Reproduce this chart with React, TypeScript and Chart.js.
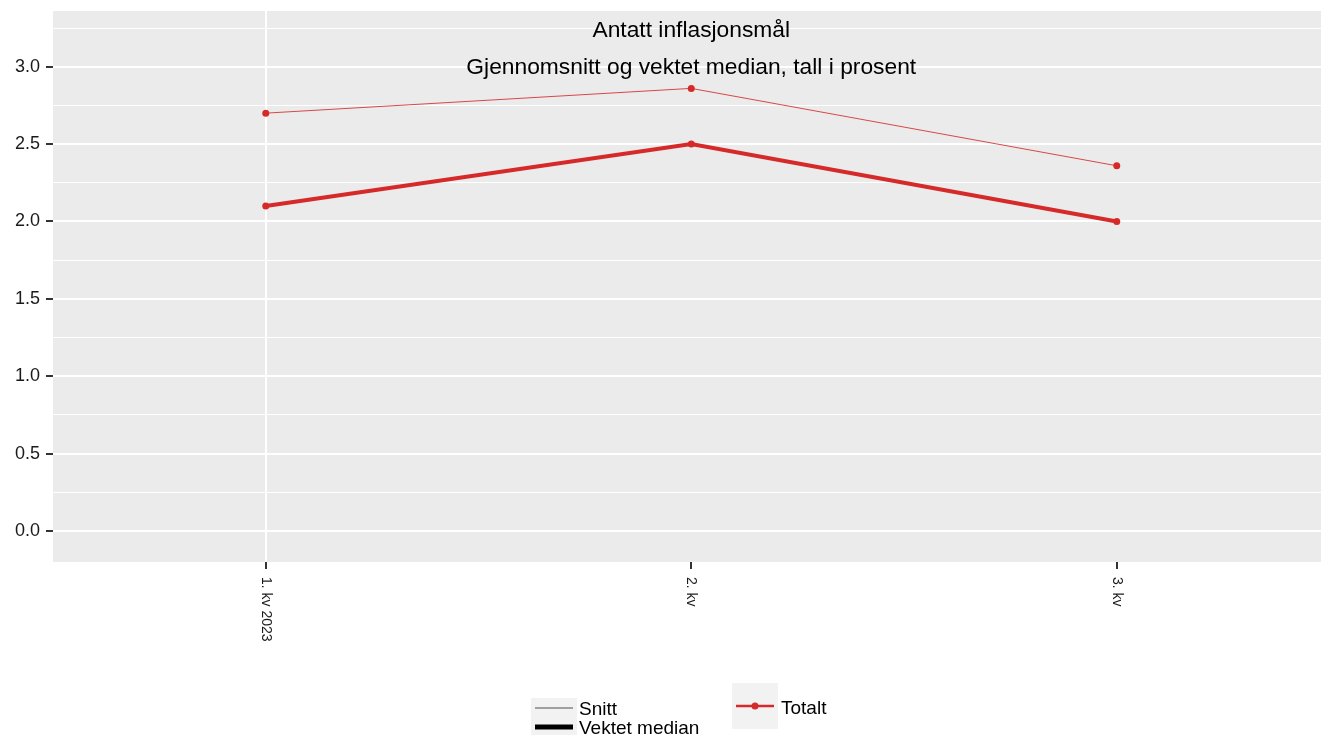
import React, { useEffect, useRef } from "react";
import { Chart, registerables } from "chart.js";

Chart.register(...registerables);

const categories = ["1. kv 2023", "2. kv", "3. kv"];
const snittValues = [2.7, 2.86, 2.36];
const medianValues = [2.1, 2.5, 2.0];
const yGridValues = [0, 0.25, 0.5, 0.75, 1, 1.25, 1.5, 1.75, 2, 2.25, 2.5, 2.75, 3, 3.25];
const title = "Antatt inflasjonsmål";
const subtitle = "Gjennomsnitt og vektet median, tall i prosent";
const legendStyleLabels = ["Snitt", "Vektet median"];
const legendSeriesLabel = "Totalt";

const RED = "#d62a2a";
const FONT = "'Liberation Sans', Arial, sans-serif";

const isMajor = (v: number) => Math.abs(v * 2 - Math.round(v * 2)) < 1e-6;

export default function App() {
  const ref = useRef<HTMLCanvasElement | null>(null);

  useEffect(() => {
    const canvas = ref.current;
    if (!canvas) return;

    const decor = {
      id: "decor",
      beforeDraw(chart: any) {
        const { ctx, chartArea } = chart;
        ctx.save();
        ctx.fillStyle = "#ebebeb";
        ctx.fillRect(chartArea.left, chartArea.top, chartArea.right - chartArea.left, chartArea.bottom - chartArea.top);
        ctx.restore();
      },
      afterDraw(chart: any) {
        const { ctx, chartArea } = chart;
        const xs = chart.scales.x;
        ctx.save();
        // title
        ctx.fillStyle = "#000";
        ctx.textAlign = "center";
        ctx.textBaseline = "alphabetic";
        ctx.font = `22.8px ${FONT}`;
        const cx = xs.getPixelForValue(1);
        ctx.fillText(title, cx, 37);
        ctx.fillText(subtitle, cx, 74);
        // x labels rotated
        ctx.font = `14px ${FONT}`;
        ctx.fillStyle = "#1a1a1a";
        categories.forEach((c, i) => {
          const x = xs.getPixelForValue(i);
          ctx.save();
          ctx.translate(x, chartArea.bottom + 15);
          ctx.rotate(Math.PI / 2);
          ctx.textAlign = "left";
          ctx.textBaseline = "middle";
          ctx.fillText(c, 0, 0);
          ctx.restore();
        });
        // legend 1
        ctx.fillStyle = "#f2f2f2";
        ctx.fillRect(531, 698, 46, 37);
        ctx.lineCap = "butt";
        ctx.strokeStyle = "#a0a0a0";
        ctx.lineWidth = 2;
        ctx.beginPath();
        ctx.moveTo(535, 708);
        ctx.lineTo(573, 708);
        ctx.stroke();
        ctx.strokeStyle = "#000";
        ctx.lineWidth = 5;
        ctx.beginPath();
        ctx.moveTo(535, 727);
        ctx.lineTo(573, 727);
        ctx.stroke();
        ctx.fillStyle = "#000";
        ctx.font = `19px ${FONT}`;
        ctx.textAlign = "left";
        ctx.textBaseline = "alphabetic";
        ctx.fillText(legendStyleLabels[0], 579, 715);
        ctx.fillText(legendStyleLabels[1], 579, 734);
        // legend 2
        ctx.fillStyle = "#f2f2f2";
        ctx.fillRect(732, 683, 46, 46);
        ctx.strokeStyle = RED;
        ctx.lineWidth = 2.5;
        ctx.beginPath();
        ctx.moveTo(736, 706);
        ctx.lineTo(774, 706);
        ctx.stroke();
        ctx.fillStyle = RED;
        ctx.beginPath();
        ctx.arc(755, 706, 3.5, 0, Math.PI * 2);
        ctx.fill();
        ctx.fillStyle = "#000";
        ctx.fillText(legendSeriesLabel, 781, 714);
        ctx.restore();
      },
    };

    const chart = new Chart(canvas, {
      type: "line",
      data: {
        datasets: [
          {
            label: "Snitt",
            data: snittValues.map((y, i) => ({ x: i, y })),
            borderColor: "rgba(214,42,42,0.85)",
            backgroundColor: RED,
            borderWidth: 1,
            pointRadius: 3.5,
            pointBorderWidth: 0,
            pointBackgroundColor: RED,
            tension: 0,
          },
          {
            label: "Vektet median",
            data: medianValues.map((y, i) => ({ x: i, y })),
            borderColor: RED,
            backgroundColor: RED,
            borderWidth: 4,
            pointRadius: 3.5,
            pointBorderWidth: 0,
            pointBackgroundColor: RED,
            tension: 0,
          },
        ],
      },
      options: {
        responsive: false,
        animation: false,
        layout: { autoPadding: false, padding: { top: 11, right: 0, left: 0, bottom: 0 } },
        plugins: {
          legend: { display: false },
          title: { display: false },
          tooltip: { enabled: false },
        },
        scales: {
          x: {
            type: "linear",
            min: -0.5,
            max: 2.48,
            afterBuildTicks: (s: any) => {
              s.ticks = categories.map((_, i) => ({ value: i }));
            },
            afterFit: (s: any) => {
              s.height = 173;
              s.paddingLeft = 0;
              s.paddingRight = 0;
              s.paddingTop = 0;
              s.paddingBottom = 0;
            },
            border: { display: false },
            grid: {
              color: (c: any) => (c.tick && c.tick.value === 0 ? "#ffffff" : "rgba(0,0,0,0)"),
              lineWidth: 2,
              drawTicks: true,
              tickLength: 7,
              tickColor: "#333333",
              tickWidth: 2,
            },
            ticks: {
              display: true,
              autoSkip: false,
              maxRotation: 0,
              callback: () => "",
            },
          },
          y: {
            type: "linear",
            min: -0.2,
            max: 3.36,
            afterBuildTicks: (s: any) => {
              s.ticks = yGridValues.map((v) => ({ value: v }));
            },
            afterFit: (s: any) => {
              s.width = 53;
              s.paddingLeft = 0;
              s.paddingRight = 0;
              s.paddingTop = 0;
              s.paddingBottom = 0;
            },
            border: { display: false },
            grid: {
              color: "#ffffff",
              lineWidth: (c: any) => (c.tick && isMajor(c.tick.value) ? 2 : 1),
              drawTicks: true,
              tickLength: 7,
              tickColor: (c: any) => (c.tick && isMajor(c.tick.value) ? "#333333" : "rgba(0,0,0,0)"),
              tickWidth: 2,
            },
            ticks: {
              autoSkip: false,
              padding: 6,
              color: "#1a1a1a",
              font: { family: FONT, size: 18 },
              callback: (v: any) => (isMajor(Number(v)) ? Number(v).toFixed(1) : ""),
            },
          },
        },
      },
      plugins: [decor],
    } as any);

    return () => chart.destroy();
  }, []);

  return (
    <div style={{ position: "fixed", left: 0, top: 0, width: 1321, height: 735, background: "#fff" }}>
      <canvas ref={ref} width={1321} height={735} style={{ display: "block", width: 1321, height: 735 }} />
    </div>
  );
}
